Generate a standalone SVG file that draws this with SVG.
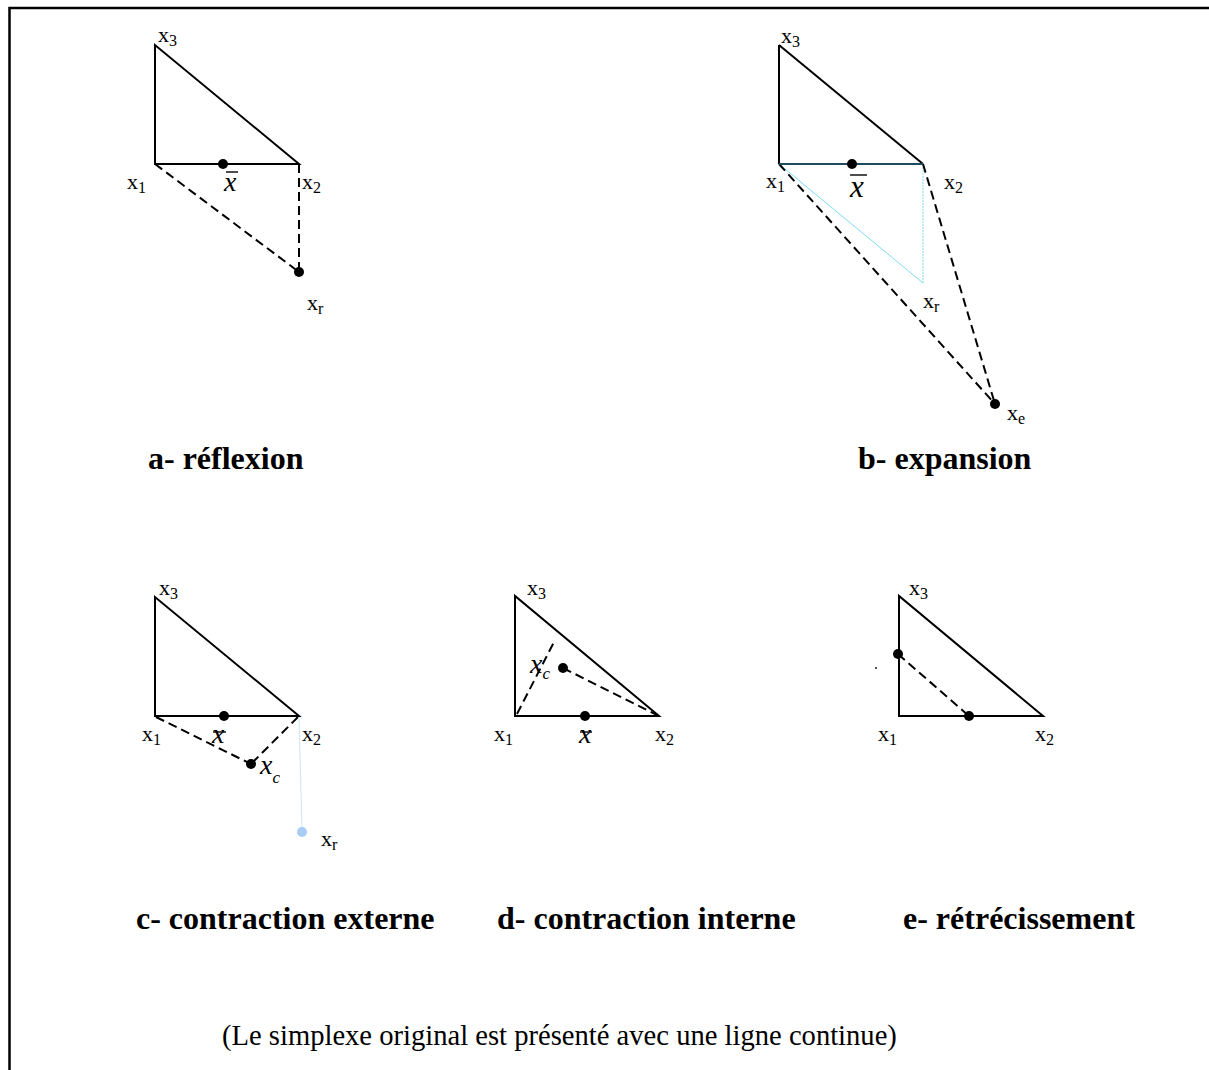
<svg xmlns="http://www.w3.org/2000/svg" width="1209" height="1070" viewBox="0 0 1209 1070">
<style>
.frame{fill:none;stroke:#000;stroke-width:2.5}
.solid{fill:none;stroke:#000;stroke-width:2;stroke-linejoin:miter}
.dash{fill:none;stroke:#000;stroke-width:2;stroke-dasharray:9 5}
.cyan{fill:none;stroke:#7fdcf2;stroke-width:1}
.cyand{fill:none;stroke:#7fdcf2;stroke-width:1;stroke-dasharray:2 1}
.dot{fill:#000}
.lbl{font-family:"Liberation Serif","Times New Roman",serif;font-size:22px;fill:#000}
.sub{font-size:16px}
.it{font-family:"Liberation Serif","Times New Roman",serif;font-style:italic;font-size:28px;fill:#000}
.bar{stroke:#000;stroke-width:1.4}
.cap{font-family:"Liberation Serif","Times New Roman",serif;font-weight:bold;font-size:32px;fill:#000}
.foot{font-family:"Liberation Serif","Times New Roman",serif;font-size:28.6px;fill:#000}
</style>
<rect class="frame" x="9.5" y="8" width="1220" height="1080"/>

<g id="connectors">
  <line class="dash" x1="155" y1="164" x2="299" y2="164"/>
  <line class="dash" x1="155" y1="164" x2="299" y2="272"/>
  <line class="dash" x1="299" y1="164" x2="299" y2="272"/>
  <line class="cyan" x1="779" y1="164" x2="923" y2="283"/>
  <line class="cyand" x1="923" y1="164" x2="923" y2="283"/>
  <line class="dash" x1="779" y1="164" x2="995" y2="404"/>
  <line class="dash" x1="923" y1="164" x2="995" y2="404"/>
  <line class="dash" x1="156" y1="717" x2="251" y2="764"/>
  <line class="dash" x1="298" y1="717" x2="251" y2="764"/>
  <line stroke="#cfe3f5" stroke-width="1" x1="299" y1="716" x2="302" y2="832"/>
  <line class="dash" x1="517" y1="714" x2="554" y2="642"/>
  <line class="dash" x1="563" y1="668" x2="657" y2="715"/>
  <line class="dash" x1="898" y1="654" x2="969" y2="716"/>
</g>

<g id="simplex-a">
  <polygon class="solid" points="155,45 155,164 299,164"/>
  <circle class="dot" cx="223" cy="164" r="5"/>
  <circle class="dot" cx="299" cy="272" r="5"/>
  <text class="lbl" x="158" y="42">x<tspan class="sub" dy="4">3</tspan></text>
  <text class="lbl" x="127" y="189">x<tspan class="sub" dy="4">1</tspan></text>
  <text class="it" x="224" y="191">x</text>
  <line class="bar" x1="226" y1="172" x2="238" y2="172"/>
  <text class="lbl" x="302" y="189">x<tspan class="sub" dy="4">2</tspan></text>
  <text class="lbl" x="307" y="310">x<tspan class="sub" dy="4">r</tspan></text>
</g>

<g id="simplex-b">
  <line class="solid" x1="779" y1="45" x2="779" y2="164"/>
  <line class="solid" x1="779" y1="45" x2="923" y2="164"/>
  <line stroke="#1d4a5c" stroke-width="2.2" x1="779" y1="164" x2="923" y2="164"/>
  <circle class="dot" cx="852" cy="164" r="5"/>
  <circle class="dot" cx="995" cy="404" r="5"/>
  <text class="lbl" x="781" y="43">x<tspan class="sub" dy="4">3</tspan></text>
  <text class="lbl" x="766" y="188">x<tspan class="sub" dy="4">1</tspan></text>
  <text class="it" x="850" y="197" style="font-size:31px">x</text>
  <line class="bar" x1="850" y1="175" x2="867" y2="175"/>
  <text class="lbl" x="944" y="189">x<tspan class="sub" dy="4">2</tspan></text>
  <text class="lbl" x="923" y="308">x<tspan class="sub" dy="4">r</tspan></text>
  <text class="lbl" x="1007" y="420">x<tspan class="sub" dy="4">e</tspan></text>
</g>

<g id="simplex-c">
  <polygon class="solid" points="155,597 155,716 299,716"/>
  <circle class="dot" cx="224" cy="716" r="5"/>
  <circle class="dot" cx="251" cy="764" r="5"/>
  <circle fill="#a8cdf5" cx="302" cy="832" r="5"/>
  <text class="lbl" x="159" y="595">x<tspan class="sub" dy="4">3</tspan></text>
  <text class="lbl" x="142" y="741">x<tspan class="sub" dy="4">1</tspan></text>
  <text class="it" x="212" y="743">x</text>
  <line class="bar" x1="213" y1="732" x2="226" y2="732"/>
  <text class="lbl" x="302" y="741">x<tspan class="sub" dy="4">2</tspan></text>
  <text class="it" x="260" y="774">x<tspan style="font-size:17px" dy="9">c</tspan></text>
  <text class="lbl" x="321" y="846">x<tspan class="sub" dy="4">r</tspan></text>
</g>

<g id="simplex-d">
  <polygon class="solid" points="515,596 515,716 659,716"/>
  <circle class="dot" cx="585" cy="716" r="5"/>
  <circle class="dot" cx="563" cy="668" r="5"/>
  <text class="lbl" x="527" y="595">x<tspan class="sub" dy="4">3</tspan></text>
  <text class="it" x="530" y="673">x<tspan style="font-size:17px" dy="6">c</tspan></text>
  <text class="lbl" x="494" y="741">x<tspan class="sub" dy="4">1</tspan></text>
  <text class="it" x="579" y="743">x</text>
  <line class="bar" x1="580" y1="732" x2="592" y2="732"/>
  <text class="lbl" x="655" y="741">x<tspan class="sub" dy="4">2</tspan></text>
</g>

<g id="simplex-e">
  <polygon class="solid" points="899,596 899,716 1043,716"/>
  <circle class="dot" cx="898" cy="654" r="5"/>
  <circle class="dot" cx="969" cy="716" r="5"/>
  <circle class="dot" cx="876" cy="668" r="0.9"/>
  <text class="lbl" x="909" y="595">x<tspan class="sub" dy="4">3</tspan></text>
  <text class="lbl" x="878" y="741">x<tspan class="sub" dy="4">1</tspan></text>
  <text class="lbl" x="1035" y="741">x<tspan class="sub" dy="4">2</tspan></text>
</g>

<g id="captions">
  <text class="cap" x="148" y="469">a- réflexion</text>
  <text class="cap" x="858" y="469">b- expansion</text>
  <text class="cap" x="136" y="929">c- contraction externe</text>
  <text class="cap" x="497" y="929">d- contraction interne</text>
  <text class="cap" x="903" y="929">e- rétrécissement</text>
  <text class="foot" x="222" y="1045">(Le simplexe original est présenté avec une ligne continue)</text>
</g>
</svg>
